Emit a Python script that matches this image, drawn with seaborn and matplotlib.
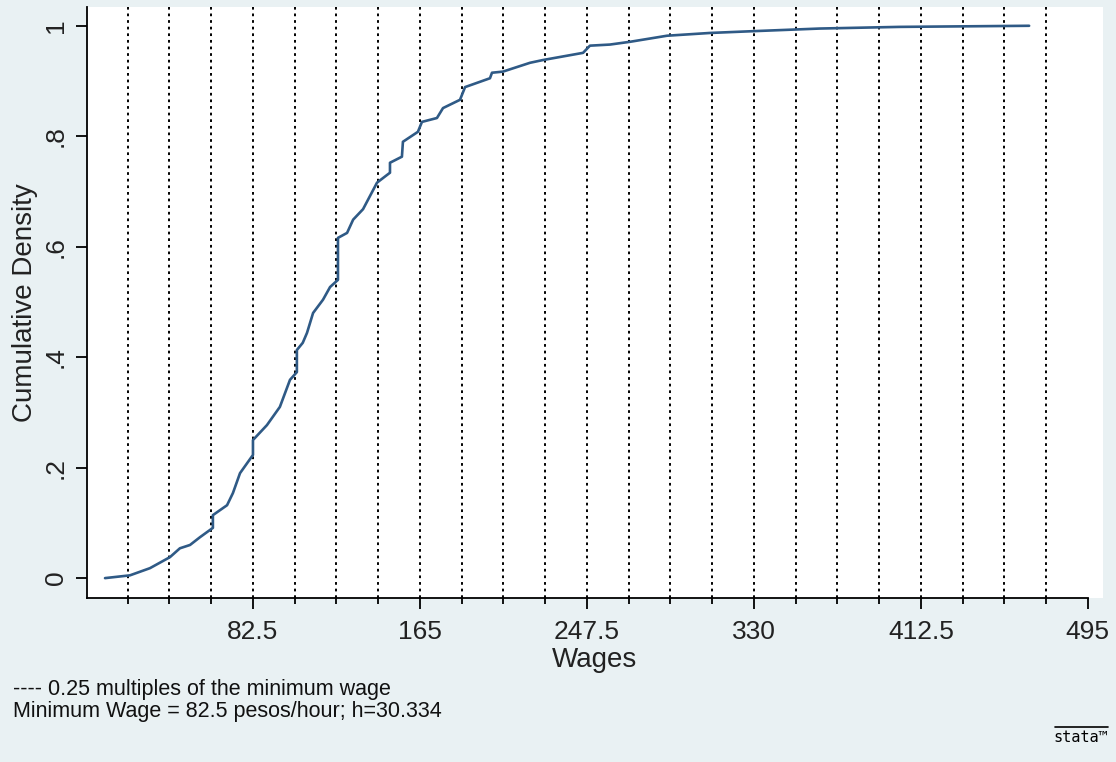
import matplotlib
matplotlib.use("Agg")
import matplotlib.pyplot as plt
from matplotlib.lines import Line2D
import seaborn as sns
import pandas as pd

# ---- data ----
wages = [9.4, 21.7, 31.6, 41.5, 46.4, 51.4, 56.3, 62.7, 62.7, 69.7, 72.6, 76.1,
         82.5, 82.5, 89.4, 95.8, 100.8, 104.2, 104.2, 107.1, 109.2, 112.2, 117.1,
         120.6, 124.5, 124.5, 129.0, 132.0, 136.9, 143.8, 150.2, 150.2, 156.1,
         156.6, 164.0, 166.0, 173.4, 176.4, 184.8, 187.3, 199.6, 200.6, 206.0,
         219.4, 225.8, 245.6, 249.0, 258.9, 268.8, 287.1, 308.3, 328.0, 362.6,
         402.0, 466.0]
cdf = [0.0, 0.005, 0.018, 0.038, 0.054, 0.060, 0.074, 0.091, 0.114, 0.132, 0.154,
       0.190, 0.223, 0.250, 0.277, 0.310, 0.359, 0.373, 0.413, 0.426, 0.444, 0.480,
       0.504, 0.527, 0.540, 0.616, 0.625, 0.649, 0.668, 0.716, 0.734, 0.752, 0.763,
       0.790, 0.808, 0.826, 0.833, 0.851, 0.866, 0.889, 0.905, 0.915, 0.917, 0.933,
       0.938, 0.951, 0.964, 0.966, 0.971, 0.982, 0.987, 0.990, 0.995, 0.998, 1.0]
minimum_wage = 82.5
multiple_step = 0.25
n_multiples = 23
x_ticks = [82.5, 165, 247.5, 330, 412.5, 495]
x_tick_labels = ["82.5", "165", "247.5", "330", "412.5", "495"]
y_ticks = [0, 0.2, 0.4, 0.6, 0.8, 1.0]
y_tick_labels = ["0", ".2", ".4", ".6", ".8", "1"]

df = pd.DataFrame({"Wages": wages, "cdf": cdf})

sns.set_theme(style="white")
plt.rcParams["font.family"] = ["Liberation Sans", "DejaVu Sans"]

bg = "#e9f1f3"
fig = plt.figure(figsize=(11.16, 7.62), dpi=100, facecolor=bg)
ax = fig.add_axes([87 / 1116, 1 - 598 / 762, (1103 - 87) / 1116, (598 - 7) / 762])
ax.set_facecolor("white")

# dotted reference lines at 0.25 multiples of the minimum wage
for k in range(1, n_multiples + 1):
    ax.axvline(k * multiple_step * minimum_wage, color="black",
               linestyle=(0, (1.4, 2.0)), linewidth=1.4, zorder=1)

sns.lineplot(data=df, x="Wages", y="cdf", estimator=None, sort=False,
             color="#2f5a86", linewidth=1.9, ax=ax, zorder=3)

ax.set_xlim(0.5, 502.5)
ax.set_ylim(-0.036, 1.034)

ax.set_xticks(x_ticks)
ax.set_xticklabels(x_tick_labels)
minor = [k * multiple_step * minimum_wage for k in range(1, n_multiples + 1)
         if (k * multiple_step) % 1 != 0]
ax.set_xticks(minor, minor=True)
ax.set_yticks(y_ticks)
ax.set_yticklabels(y_tick_labels, rotation=90, va="center")

ax.tick_params(axis="both", which="major", direction="out", length=8,
               width=1.3, color="black", labelsize=19, labelcolor="#222222")
ax.tick_params(axis="x", which="minor", direction="out", length=4,
               width=1.3, color="black", bottom=True)
ax.tick_params(axis="x", which="major", pad=8, bottom=True)
ax.tick_params(axis="y", which="major", pad=6, left=True)

for s in ["top", "right"]:
    ax.spines[s].set_visible(False)
for s in ["left", "bottom"]:
    ax.spines[s].set_color("black")
    ax.spines[s].set_linewidth(1.3)
ax.spines["bottom"].set_bounds(0.5, 495)

ax.set_xlabel("Wages", fontsize=20, color="#222222", labelpad=2)
ax.set_ylabel("Cumulative Density", fontsize=20, color="#222222", labelpad=4)

fig.text(13 / 1116, 1 - 690 / 762, "---- 0.25 multiples of the minimum wage",
         fontsize=15.5, color="#111111", va="center", ha="left")
fig.text(13 / 1116, 1 - 712 / 762, "Minimum Wage = 82.5 pesos/hour; h=30.334",
         fontsize=15.5, color="#111111", va="center", ha="left")

fig.text(1108 / 1116, 1 - 737 / 762, "stata\u2122", fontsize=11, color="black",
         ha="right", va="center", family="DejaVu Sans Mono")
fig.add_artist(Line2D([1055 / 1116, 1108 / 1116], [1 - 727 / 762, 1 - 727 / 762],
                      color="black", linewidth=1.2, transform=fig.transFigure))

fig.savefig("out.png", dpi=100, facecolor=bg)
